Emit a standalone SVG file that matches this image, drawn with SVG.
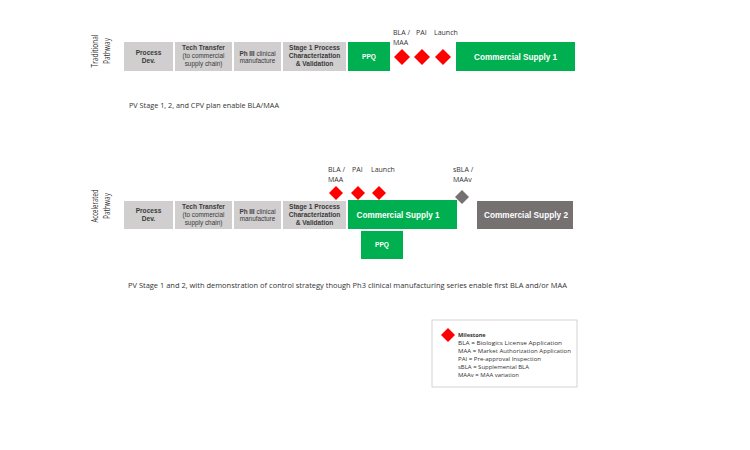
<svg xmlns="http://www.w3.org/2000/svg" width="750" height="450" viewBox="0 0 750 450">
<style>
.g{fill:#d0cece}
.gr{fill:#00b050}
.dk{fill:#767171}
.rd{fill:#ff0000}
.bt{font-family:"Liberation Sans",Arial,sans-serif;font-size:6.6px;font-weight:bold;fill:#3a3a3a;text-anchor:middle}
.rt{font-family:"Liberation Sans",Arial,sans-serif;font-size:6.4px;fill:#3a3a3a;text-anchor:middle}
.wt{font-family:"Liberation Sans",Arial,sans-serif;font-weight:bold;fill:#ffffff;text-anchor:middle}
.lb{font-family:"Open Sans","Liberation Sans",sans-serif;font-size:7px;fill:#333333}
.pw{font-family:"Open Sans","Liberation Sans",sans-serif;font-size:9.5px;fill:#333333;text-anchor:middle}
.ft{font-family:"Open Sans","Liberation Sans",sans-serif;font-size:7px;fill:#333333}
.lg{font-family:"Open Sans","Liberation Sans",sans-serif;font-size:5.6px;fill:#333333}
</style>
<rect width="750" height="450" fill="#ffffff"/>

<g id="traditional-label">
<text class="pw" transform="translate(98,51) rotate(-90)" textLength="33" lengthAdjust="spacingAndGlyphs">Traditional</text>
<text class="pw" transform="translate(110,51) rotate(-90)" textLength="26" lengthAdjust="spacingAndGlyphs">Pathway</text>
</g>

<g id="t-process-dev">
<rect class="g" x="124" y="42" width="49" height="29"/>
<text class="bt" x="148.5" y="55">Process</text>
<text class="bt" x="148.5" y="63">Dev.</text>
</g>
<g id="t-tech-transfer">
<rect class="g" x="175" y="42" width="57" height="29"/>
<text class="bt" x="203.5" y="50">Tech Transfer</text>
<text class="rt" x="203.5" y="58">(to commercial</text>
<text class="rt" x="203.5" y="66">supply chain)</text>
</g>
<g id="t-ph3">
<rect class="g" x="234" y="42" width="47" height="29"/>
<text class="rt" x="257.5" y="56"><tspan font-weight="bold">Ph III</tspan> clinical</text>
<text class="rt" x="257.5" y="63">manufacture</text>
</g>
<g id="t-stage1">
<rect class="g" x="283" y="42" width="63" height="29"/>
<text class="bt" x="314.5" y="50">Stage 1 Process</text>
<text class="bt" x="314.5" y="58">Characterization</text>
<text class="bt" x="314.5" y="66">&amp; Validation</text>
</g>
<g id="t-ppq">
<rect class="gr" x="348" y="42" width="42" height="29"/>
<text class="wt" x="369" y="59" font-size="6.6">PPQ</text>
</g>
<g id="t-milestones">
<path class="rd" d="M402,49 L410,57 L402,65 L394,57 Z"/>
<path class="rd" d="M422,49 L430,57 L422,65 L414,57 Z"/>
<path class="rd" d="M443,49 L451,57 L443,65 L435,57 Z"/>
<text class="lb" x="393" y="35">BLA /</text>
<text class="lb" x="393" y="45">MAA</text>
<text class="lb" x="416" y="35">PAI</text>
<text class="lb" x="434" y="35">Launch</text>
</g>
<g id="t-commercial-supply-1">
<rect class="gr" x="456" y="42" width="119" height="29"/>
<text class="wt" x="515.5" y="60" font-size="9" textLength="83" lengthAdjust="spacingAndGlyphs">Commercial Supply 1</text>
</g>

<text class="ft" x="129" y="108" textLength="150" lengthAdjust="spacingAndGlyphs">PV Stage 1, 2, and CPV plan enable BLA/MAA</text>

<g id="accelerated-label">
<text class="pw" transform="translate(98,206) rotate(-90)" textLength="33" lengthAdjust="spacingAndGlyphs">Accelerated</text>
<text class="pw" transform="translate(110,206) rotate(-90)" textLength="26" lengthAdjust="spacingAndGlyphs">Pathway</text>
</g>

<g id="a-process-dev">
<rect class="g" x="124" y="201" width="49" height="28"/>
<text class="bt" x="148.5" y="213">Process</text>
<text class="bt" x="148.5" y="221">Dev.</text>
</g>
<g id="a-tech-transfer">
<rect class="g" x="175" y="201" width="57" height="28"/>
<text class="bt" x="203.5" y="209">Tech Transfer</text>
<text class="rt" x="203.5" y="217">(to commercial</text>
<text class="rt" x="203.5" y="225">supply chain)</text>
</g>
<g id="a-ph3">
<rect class="g" x="234" y="201" width="47" height="28"/>
<text class="rt" x="257.5" y="214"><tspan font-weight="bold">Ph III</tspan> clinical</text>
<text class="rt" x="257.5" y="221">manufacture</text>
</g>
<g id="a-stage1">
<rect class="g" x="283" y="201" width="63" height="28"/>
<text class="bt" x="314.5" y="209">Stage 1 Process</text>
<text class="bt" x="314.5" y="217">Characterization</text>
<text class="bt" x="314.5" y="225">&amp; Validation</text>
</g>
<g id="a-commercial-supply-1">
<rect class="gr" x="348" y="200" width="109" height="29"/>
<text class="wt" x="398" y="218" font-size="9" textLength="83" lengthAdjust="spacingAndGlyphs">Commercial Supply 1</text>
</g>
<g id="a-ppq">
<rect class="gr" x="361" y="231" width="42" height="28"/>
<text class="wt" x="382" y="247" font-size="6.6">PPQ</text>
</g>
<g id="a-milestones">
<path class="rd" d="M336,186 L343,193 L336,200 L329,193 Z"/>
<path class="rd" d="M358,186 L365,193 L358,200 L351,193 Z"/>
<path class="rd" d="M379,186 L386,193 L379,200 L372,193 Z"/>
<text class="lb" x="328" y="172">BLA /</text>
<text class="lb" x="328" y="182">MAA</text>
<text class="lb" x="352" y="172">PAI</text>
<text class="lb" x="371" y="172">Launch</text>
</g>
<g id="a-sbla">
<path class="dk" d="M462,190 L469,197 L462,204 L455,197 Z"/>
<text class="lb" x="453" y="172">sBLA /</text>
<text class="lb" x="453" y="182">MAAv</text>
</g>
<g id="a-commercial-supply-2">
<rect class="dk" x="477" y="201" width="96" height="28"/>
<text class="wt" x="526" y="218" font-size="9" textLength="84" lengthAdjust="spacingAndGlyphs">Commercial Supply 2</text>
</g>

<text class="ft" x="128" y="288" textLength="439" lengthAdjust="spacingAndGlyphs">PV Stage 1 and 2, with demonstration of control strategy though  Ph3 clinical manufacturing series enable first BLA and/or MAA</text>

<g id="legend">
<rect x="432" y="320" width="145" height="67" fill="#ffffff" stroke="#c8c8c8" stroke-width="0.8"/>
<path class="rd" d="M448,328 L455,335 L448,342 L441,335 Z"/>
<text class="lg" x="458" y="337" font-weight="bold" font-size="6.4">Milestone</text>
<text class="lg" x="458" y="345" textLength="104" lengthAdjust="spacingAndGlyphs">BLA = Biologics License Application</text>
<text class="lg" x="458" y="353" textLength="113" lengthAdjust="spacingAndGlyphs">MAA = Market Authorization Application</text>
<text class="lg" x="458" y="361" textLength="83" lengthAdjust="spacingAndGlyphs">PAI = Pre-approval Inspection</text>
<text class="lg" x="458" y="369" textLength="71" lengthAdjust="spacingAndGlyphs">sBLA = Supplemental BLA</text>
<text class="lg" x="458" y="377" textLength="61" lengthAdjust="spacingAndGlyphs">MAAv = MAA variation</text>
</g>
</svg>
